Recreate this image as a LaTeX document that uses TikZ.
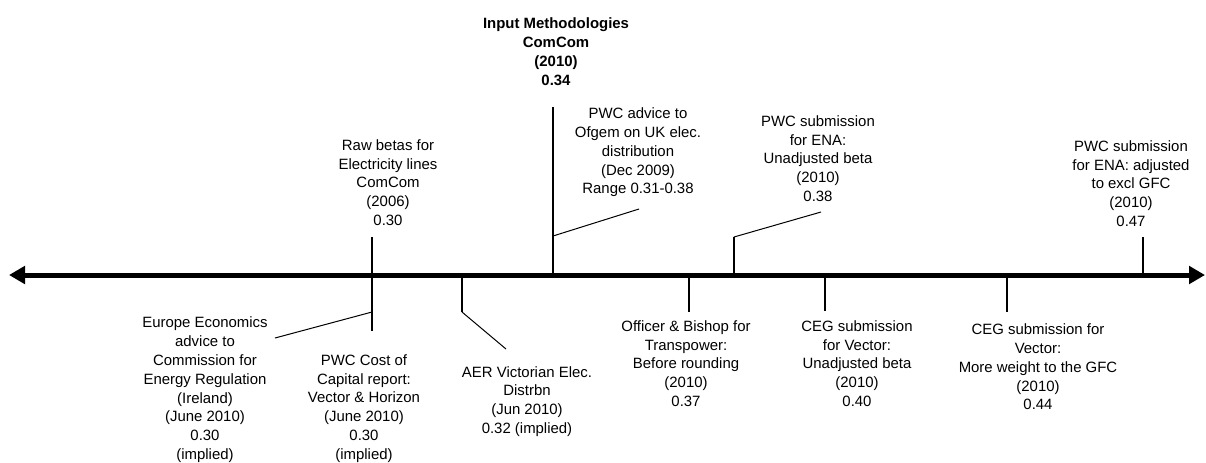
\documentclass[tikz,border=0pt]{standalone}
\usepackage{fontspec}
\setmainfont{Liberation Sans}
\usetikzlibrary{arrows.meta}

\newcommand\axisy{275}
\newcommand\evfont{\fontsize{11.2}{14.1}\selectfont}
\tikzset{
  event/.style={align=center,inner sep=0pt,font=\evfont},
  keyevent/.style={event,font=\evfont\bfseries},
  tickline/.style={line width=1.5pt},
  leader/.style={line width=0.75pt},
  timeline/.style={line width=3.75pt,
    {Triangle[length=12pt,width=13pt]}-{Triangle[length=12pt,width=13pt]}},
}

\begin{document}
\begin{tikzpicture}[x=0.75pt,y=-0.75pt]
    \useasboundingbox (0,0) rectangle (1206,462);

    % the time axis
    \coordinate (axl) at (9,\axisy);
    \coordinate (axr) at (1205,\axisy);

    % events above the axis
    \node[keyevent] (input) at (556,51.5) {Input Methodologies\\ComCom\\(2010)\\0.34};
    \node[event] (rawbeta) at (388,182.5) {Raw betas for\\Electricity lines\\ComCom\\(2006)\\0.30};
    \node[event] (ofgem) at (638,152.5) {PWC advice to\\Ofgem on UK elec.\\distribution\\(Dec 2009)\\Range 0.31-0.38};
    \node[event] (enaunadj) at (818,158.5) {PWC submission\\for ENA:\\Unadjusted beta\\(2010)\\0.38};
    \node[event] (enaadj) at (1131,183.5) {PWC submission\\for ENA: adjusted\\to excl GFC\\(2010)\\0.47};

    % events below the axis
    \node[event] (europe) at (205,389.8) {Europe Economics\\advice to\\Commission for\\Energy Regulation\\(Ireland)\\(June 2010)\\0.30\\(implied)};
    \node[event] (pwccost) at (364,408.5) {PWC Cost of\\Capital report:\\Vector \& Horizon\\(June 2010)\\0.30\\(implied)};
    \node[event] (aer) at (527,401.5) {AER Victorian Elec.\\Distrbn\\(Jun 2010)\\0.32 (implied)};
    \node[event] (officer) at (686,363.5) {Officer \& Bishop for\\Transpower:\\Before rounding\\(2010)\\0.37};
    \node[event] (cegunadj) at (857,363.5) {CEG submission\\for Vector:\\Unadjusted beta\\(2010)\\0.40};
    \node[event] (cegmore) at (1038,367) {CEG submission for\\Vector:\\More weight to the GFC\\(2010)\\0.44};

    % tick ends and leader ends
    \coordinate (t1top) at (372,237);
    \coordinate (t1bot) at (372,331);
    \coordinate (t1knee) at (372,312);
    \coordinate (euroend) at (275,338);
    \coordinate (t2) at (462,\axisy);
    \coordinate (t2knee) at (462,312);
    \coordinate (aerend) at (506,349);
    \coordinate (t3top) at (553,107);
    \coordinate (t3) at (553,\axisy);
    \coordinate (t3knee) at (553,236);
    \coordinate (ofgemend) at (639,209);
    \coordinate (t4) at (689,\axisy);
    \coordinate (t4bot) at (689,312);
    \coordinate (t5) at (734,\axisy);
    \coordinate (t5knee) at (734,237);
    \coordinate (enaend) at (821,212);
    \coordinate (t6) at (825,\axisy);
    \coordinate (t6bot) at (825,311);
    \coordinate (t7) at (1007,\axisy);
    \coordinate (t7bot) at (1007,312);
    \coordinate (t8top) at (1143,237);
    \coordinate (t8) at (1143,\axisy);

    \draw[tickline] (t1top) -- (t1bot);
    \draw[tickline] (t2) -- (t2knee);
    \draw[tickline] (t3top) -- (t3);
    \draw[tickline] (t4) -- (t4bot);
    \draw[tickline] (t5knee) -- (t5);
    \draw[tickline] (t6) -- (t6bot);
    \draw[tickline] (t7) -- (t7bot);
    \draw[tickline] (t8top) -- (t8);

    \draw[leader] (t1knee) -- (euroend);
    \draw[leader] (t2knee) -- (aerend);
    \draw[leader] (t3knee) -- (ofgemend);
    \draw[leader] (t5knee) -- (enaend);

    \draw[timeline] (axl) -- (axr);
\end{tikzpicture}
\end{document}
